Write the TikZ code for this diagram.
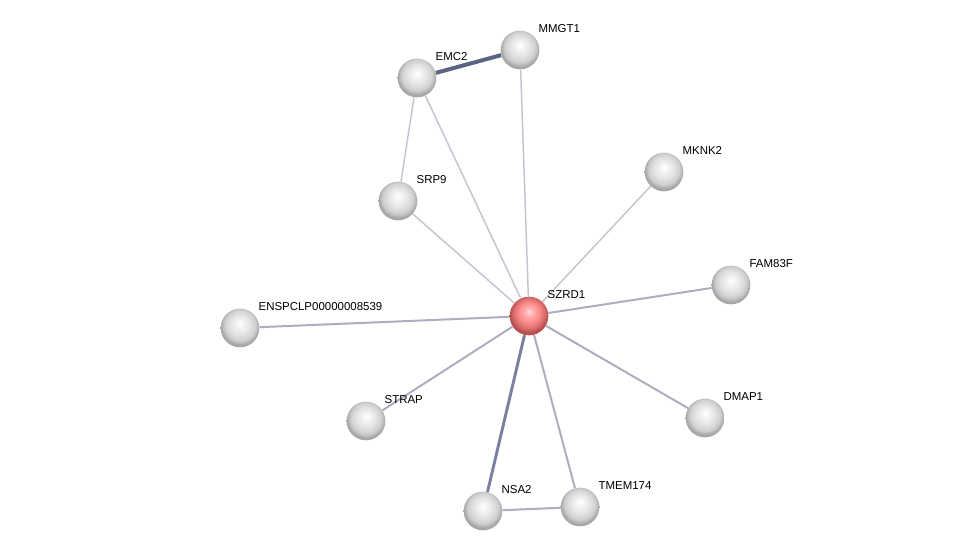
\documentclass[tikz,border=0pt]{standalone}
\usepackage{fontspec}
\setmainfont{Liberation Sans}
\usepackage{tikz}

\pgfdeclareradialshading{greyball}{\pgfpoint{0bp}{6bp}}{%
  color(0bp)=(white); color(6bp)=(gray!10); color(13bp)=(gray!22);
  color(20bp)=(gray!38); color(25bp)=(gray!70); color(50bp)=(gray!70)}
\pgfdeclareradialshading{redball}{\pgfpoint{0bp}{6bp}}{%
  color(0bp)=(red!15!white); color(6bp)=(red!32!white); color(13bp)=(red!45!white);
  color(20bp)=(red!50!white!85!black); color(25bp)=(red!60!black!70!white); color(50bp)=(red!60!black!70!white)}

\begin{document}
\begin{tikzpicture}[x=0.75pt,y=-0.75pt,
  prot/.style={circle,minimum size=29pt,inner sep=0pt,shading=greyball},
  hub/.style={prot,shading=redball},
  lbl/.style={anchor=south west,inner sep=1pt,font=\fontsize{8.6}{10}\selectfont},
  weak/.style={line width=1.1pt,color={rgb,255:red,196;green,196;blue,208}},
  mid/.style={line width=1.5pt,color={rgb,255:red,172;green,174;blue,192}},
  strong/.style={line width=2.2pt,color={rgb,255:red,122;green,128;blue,158}},
  top/.style={line width=3pt,color={rgb,255:red,92;green,100;blue,132}}]
  \useasboundingbox (0,0) rectangle (975,556);
  % proteins
  \node[hub] (szrd1) at (529,316) {};
  \foreach \n/\x/\y in {emc2/417/78,mmgt1/520/50,srp9/398/201,mknk2/664/172,
      fam83f/731/285,enspclp/240/328,strap/366/421,dmap1/705/418,
      nsa2/483/511,tmem174/580/507}{
    \node[prot] (\n) at (\x,\y) {};
  }
  % links
  \foreach \a/\b in {emc2/srp9,emc2/szrd1,mmgt1/szrd1,srp9/szrd1,mknk2/szrd1}{
    \draw[weak] (\a) -- (\b);
  }
  \foreach \a/\b in {fam83f/szrd1,enspclp/szrd1,strap/szrd1,dmap1/szrd1,
      tmem174/szrd1,nsa2/tmem174}{
    \draw[mid] (\a) -- (\b);
  }
  \draw[strong] (nsa2) -- (szrd1);
  \draw[top] (emc2) -- (mmgt1);
  % labels
  \foreach \n/\t in {szrd1/SZRD1,emc2/EMC2,mmgt1/MMGT1,srp9/SRP9,mknk2/MKNK2,
      fam83f/FAM83F,enspclp/ENSPCLP00000008539,strap/STRAP,dmap1/DMAP1,
      nsa2/NSA2,tmem174/TMEM174}{
    \node[lbl] at ([shift={(17,-16)}]\n.center) {\t};
  }
\end{tikzpicture}
\end{document}
